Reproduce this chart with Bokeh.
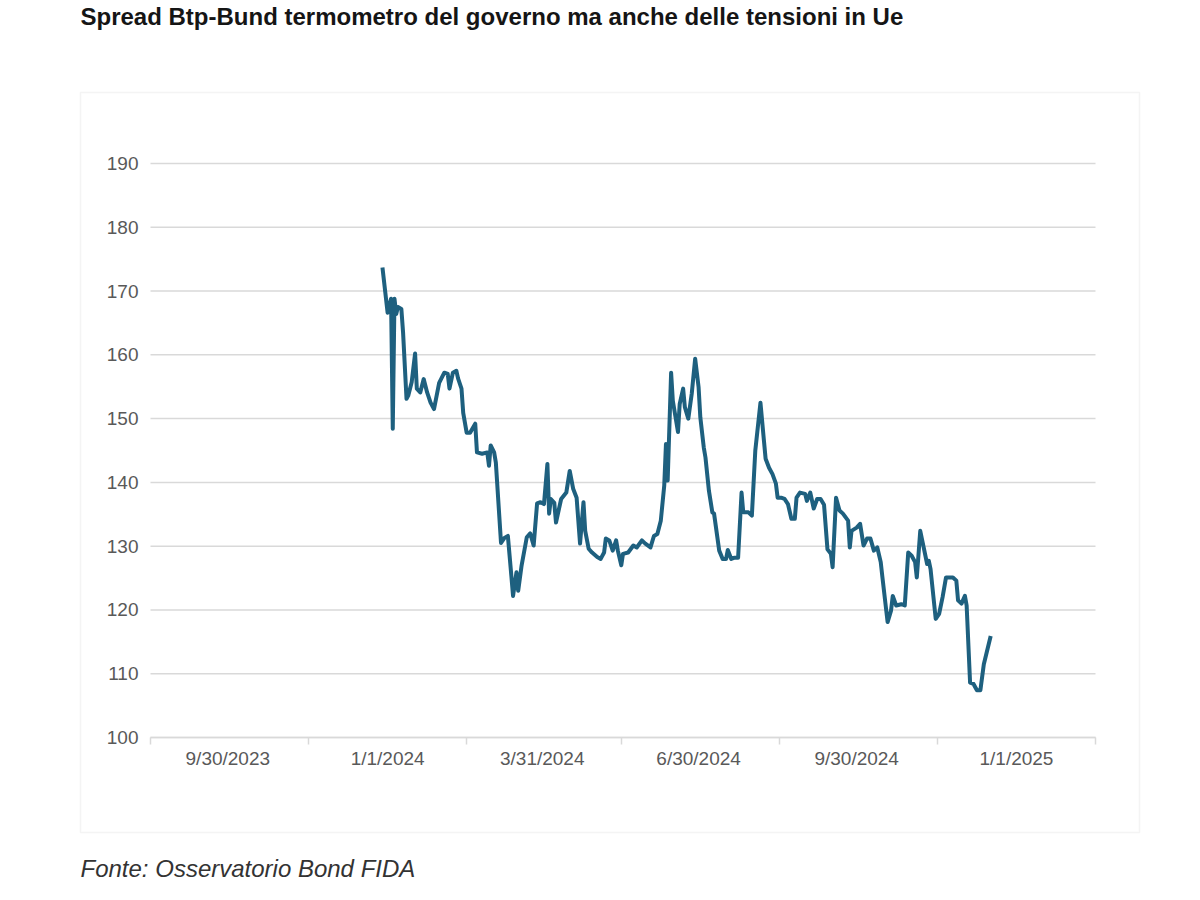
import pandas as pd
from bokeh.plotting import figure
from bokeh.models import Range1d, FixedTicker, Label, BoxAnnotation, ColumnDataSource
from bokeh.embed import file_html
from bokeh.resources import INLINE

# ---- data -------------------------------------------------------------
dates = [
    "2023-12-29", "2024-01-01", "2024-01-03", "2024-01-04", "2024-01-05", "2024-01-06",
    "2024-01-07", "2024-01-09", "2024-01-10", "2024-01-12", "2024-01-13", "2024-01-15",
    "2024-01-17", "2024-01-18", "2024-01-20", "2024-01-22", "2024-01-24", "2024-01-26",
    "2024-01-28", "2024-01-31", "2024-02-03", "2024-02-05", "2024-02-06", "2024-02-08",
    "2024-02-10", "2024-02-11", "2024-02-13", "2024-02-14", "2024-02-16", "2024-02-18",
    "2024-02-21", "2024-02-22", "2024-02-25", "2024-02-28", "2024-02-29", "2024-03-01",
    "2024-03-03", "2024-03-04", "2024-03-07", "2024-03-09", "2024-03-11", "2024-03-13",
    "2024-03-14", "2024-03-16", "2024-03-17", "2024-03-19", "2024-03-22", "2024-03-24",
    "2024-03-26", "2024-03-28", "2024-03-30", "2024-04-01", "2024-04-03", "2024-04-04",
    "2024-04-05", "2024-04-07", "2024-04-08", "2024-04-11", "2024-04-14", "2024-04-16",
    "2024-04-18", "2024-04-20", "2024-04-22", "2024-04-24", "2024-04-25", "2024-04-27",
    "2024-04-29", "2024-05-02", "2024-05-04", "2024-05-06", "2024-05-07", "2024-05-09",
    "2024-05-11", "2024-05-13", "2024-05-14", "2024-05-16", "2024-05-17", "2024-05-20",
    "2024-05-23", "2024-05-25", "2024-05-28", "2024-05-30", "2024-06-02", "2024-06-04",
    "2024-06-06", "2024-06-08", "2024-06-10", "2024-06-11", "2024-06-12", "2024-06-14",
    "2024-06-15", "2024-06-18", "2024-06-19", "2024-06-21", "2024-06-22", "2024-06-24",
    "2024-06-26", "2024-06-28", "2024-06-30", "2024-07-01", "2024-07-03", "2024-07-04",
    "2024-07-06", "2024-07-08", "2024-07-09", "2024-07-12", "2024-07-14", "2024-07-16",
    "2024-07-17", "2024-07-19", "2024-07-21", "2024-07-23", "2024-07-25", "2024-07-26",
    "2024-07-29", "2024-07-31", "2024-08-02", "2024-08-05", "2024-08-07", "2024-08-08",
    "2024-08-10", "2024-08-12", "2024-08-14", "2024-08-15", "2024-08-17", "2024-08-19",
    "2024-08-21", "2024-08-23", "2024-08-25", "2024-08-26", "2024-08-28", "2024-08-31",
    "2024-09-01", "2024-09-03", "2024-09-05", "2024-09-07", "2024-09-09", "2024-09-11",
    "2024-09-13", "2024-09-15", "2024-09-16", "2024-09-18", "2024-09-20", "2024-09-22",
    "2024-09-25", "2024-09-26", "2024-09-27", "2024-09-30", "2024-10-02", "2024-10-04",
    "2024-10-06", "2024-10-08", "2024-10-10", "2024-10-12", "2024-10-14", "2024-10-15",
    "2024-10-17", "2024-10-18", "2024-10-20", "2024-10-21", "2024-10-23", "2024-10-26",
    "2024-10-28", "2024-10-30", "2024-11-01", "2024-11-03", "2024-11-04", "2024-11-06",
    "2024-11-08", "2024-11-10", "2024-11-11", "2024-11-12", "2024-11-15", "2024-11-17",
    "2024-11-19", "2024-11-21", "2024-11-25", "2024-11-27", "2024-11-28", "2024-11-30",
    "2024-12-02", "2024-12-03", "2024-12-05", "2024-12-07", "2024-12-09", "2024-12-11",
    "2024-12-13", "2024-12-17",
]
spread = [
    173.7, 166.6, 168.8, 148.4, 168.8, 166.4,
    167.5, 167.2, 163.5, 153.1, 153.6, 155.7,
    160.2, 154.7, 154.1, 156.2, 154.1, 152.5,
    151.5, 155.6, 157.2, 157.0, 154.7, 157.2,
    157.5, 156.3, 154.7, 150.9, 147.8, 147.8,
    149.2, 144.7, 144.5, 144.7, 142.6, 145.8,
    144.7, 143.1, 130.5, 131.3, 131.6, 125.4,
    122.2, 125.9, 123.0, 127.0, 131.4, 132.0,
    130.1, 136.7, 136.9, 136.6, 142.9, 135.1,
    137.4, 136.8, 133.7, 137.4, 138.4, 141.8,
    139.0, 137.6, 130.4, 136.9, 132.4, 129.6,
    129.0, 128.3, 128.0, 129.0, 131.2, 130.9,
    129.3, 130.9, 129.3, 127.0, 128.8, 129.0,
    130.1, 129.8, 130.9, 130.4, 129.8, 131.6,
    131.9, 134.0, 139.5, 146.0, 140.3, 157.2,
    152.8, 147.9, 152.3, 154.7, 151.8, 150.0,
    153.9, 159.4, 154.9, 150.2, 145.5, 143.9,
    138.7, 135.3, 135.1, 129.3, 128.0, 128.0,
    129.4, 128.0, 128.2, 128.2, 138.4, 135.3,
    135.3, 134.8, 145.0, 152.5, 146.6, 143.7,
    142.3, 141.3, 139.8, 137.6, 137.6, 137.4,
    136.6, 134.3, 134.3, 137.6, 138.4, 138.2,
    137.1, 138.4, 135.9, 137.4, 137.4, 136.5,
    129.5, 128.8, 126.7, 137.6, 135.6, 135.1,
    134.0, 129.8, 132.4, 132.9, 133.5, 130.1,
    131.2, 131.2, 129.3, 129.8, 127.5, 125.1,
    120.4, 118.1, 119.9, 122.2, 120.7, 120.9,
    120.7, 129.0, 128.5, 127.5, 125.1, 132.4,
    129.8, 127.2, 127.7, 126.4, 118.6, 119.4,
    122.0, 125.1, 125.1, 124.6, 121.5, 121.0,
    122.2, 120.7, 108.6, 108.4, 107.4, 107.4,
    111.5, 115.9,
]

label_dates = ["2023-09-30", "2024-01-01", "2024-03-31", "2024-06-30", "2024-09-30", "2025-01-01"]
label_texts = ["9/30/2023", "1/1/2024", "3/31/2024", "6/30/2024", "9/30/2024", "1/1/2025"]
boundary_dates = ["2023-08-16", "2023-11-16", "2024-02-16", "2024-05-16",
                  "2024-08-16", "2024-11-16", "2025-02-16"]
y_ticks = [100, 110, 120, 130, 140, 150, 160, 170, 180, 190]

title_text = "Spread Btp-Bund termometro del governo ma anche delle tensioni in Ue"
source_text = "Fonte: Osservatorio Bond FIDA"

# ---- helpers ----------------------------------------------------------
BASE = pd.Timestamp("2024-01-01")


def to_days(seq):
    return [int((pd.Timestamp(s) - BASE).days) for s in seq]


x_days = to_days(dates)
label_days = to_days(label_dates)
boundary_days = to_days(boundary_dates)

FONT = "Liberation Sans"
GRID = "#d9d9d9"
TICK_TXT = "#595959"
LINE = "#1e607f"

# ---- layout (pixels on the canvas) ------------------------------------
W, H = 1184, 884
PL, PR, PT, PB = 150, 1095, 163, 737       # plot area
BOX_L, BOX_R, BOX_T, BOX_B = 80, 1139, 92, 832

x0, x1 = boundary_days[0], boundary_days[-1]
y0, y1 = y_ticks[0], y_ticks[-1]
xs = (x1 - x0) / (PR - PL)
ys = (y1 - y0) / (PB - PT)
x_range = Range1d(x0 - PL * xs, x1 + (W - PR) * xs)
y_range = Range1d(y0 - (H - PB) * ys, y1 + PT * ys)

p = figure(
    width=W, height=H, x_range=x_range, y_range=y_range,
    output_backend="svg", toolbar_location=None,
    min_border_left=0, min_border_right=0, min_border_top=0, min_border_bottom=0,
)
p.title.visible = False
p.outline_line_color = None
p.background_fill_color = "white"
p.border_fill_color = "white"
p.xgrid.visible = False
p.ygrid.visible = False

# horizontal gridlines across the plot area
n = len(y_ticks)
p.segment(x0=[x0] * n, x1=[x1] * n, y0=y_ticks, y1=y_ticks,
          line_color=GRID, line_width=1.5)

src = ColumnDataSource(dict(x=x_days, y=spread))
p.line("x", "y", source=src, line_width=4, line_color=LINE, line_join="round")

# x axis at y = 100
xa = p.xaxis[0]
xa.fixed_location = y0
xa.bounds = (x0, x1)
xa.ticker = FixedTicker(ticks=label_days, minor_ticks=boundary_days)
xa.major_label_overrides = {d: t for d, t in zip(label_days, label_texts)}
xa.major_tick_line_color = None
xa.major_tick_in = 0
xa.major_tick_out = 0
xa.minor_tick_line_color = GRID
xa.minor_tick_line_width = 1.5
xa.minor_tick_in = 0
xa.minor_tick_out = 7
xa.axis_line_color = GRID
xa.axis_line_width = 1.5
xa.major_label_text_font = FONT
xa.major_label_text_font_size = "19px"
xa.major_label_text_color = TICK_TXT
xa.major_label_standoff = 3

# y axis at the left edge of the plot area
ya = p.yaxis[0]
ya.fixed_location = x0
ya.bounds = (y0, y1)
ya.ticker = FixedTicker(ticks=y_ticks)
ya.axis_line_color = None
ya.major_tick_line_color = None
ya.minor_tick_line_color = None
ya.major_tick_in = 0
ya.major_tick_out = 0
ya.major_label_text_font = FONT
ya.major_label_text_font_size = "19px"
ya.major_label_text_color = TICK_TXT
ya.major_label_standoff = 12

# outer box
box = BoxAnnotation(left=BOX_L, right=BOX_R, bottom=H - BOX_B, top=H - BOX_T,
                    left_units="screen", right_units="screen",
                    bottom_units="screen", top_units="screen",
                    fill_alpha=0, line_color=GRID, line_width=1.5)
p.add_layout(box)

title = Label(x=80, y=H - 16, x_units="screen", y_units="screen", text=title_text,
              text_font=FONT, text_font_size="24px", text_font_style="bold",
              text_color="#151515", text_baseline="alphabetic", text_align="left")
p.add_layout(title)

footer = Label(x=80, y=H - 868, x_units="screen", y_units="screen", text=source_text,
               text_font=FONT, text_font_size="24px", text_font_style="italic",
               text_color="#333333", text_baseline="alphabetic", text_align="left")
p.add_layout(footer)

open("out.html", "w").write(file_html(p, INLINE))
